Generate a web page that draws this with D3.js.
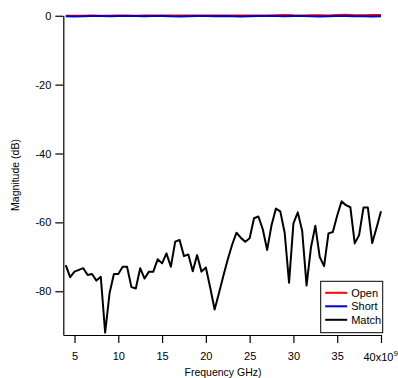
<!DOCTYPE html>
<html>
<head>
<meta charset="utf-8">
<script src="https://cdn.jsdelivr.net/npm/d3@7"></script>
<style>
  body { margin: 0; background: #fff; }
  svg { font-family: "Liberation Sans", Arial, sans-serif; }
</style>
</head>
<body>
<div id="chart"></div>
<script>
// frequency grid for the match trace, GHz
var freqMatch = [4, 4.5, 5, 5.5, 6, 6.5, 7, 7.5, 8, 8.5, 9, 9.5, 10, 10.5, 11, 11.5, 12, 12.5, 13, 13.5,
    14, 14.5, 15, 15.5, 16, 16.5, 17, 17.5, 18, 18.5, 19, 19.5, 20, 20.5, 21, 21.5, 22, 22.5, 23, 23.5,
    24, 24.5, 25, 25.5, 26, 26.5, 27, 27.5, 28, 28.5, 29, 29.5, 30, 30.5, 31, 31.5, 32, 32.5, 33, 33.5,
    34, 34.5, 35, 35.5, 36, 36.5, 37, 37.5, 38, 38.5, 39, 39.5, 40];
var matchDb = [-72.4, -75.9, -74.3, -73.8, -73.3, -75.3, -75.0, -76.9, -75.8, -92.0, -80.6, -75.0, -75.0, -72.9, -72.9, -78.8, -79.2, -73.3, -76.3, -74.3,
    -74.3, -70.7, -71.9, -69.0, -72.9, -65.6, -65.1, -69.8, -69.3, -74.2, -69.5, -74.3, -73.1, -79.0, -85.3, -80.5, -75.5, -70.8, -66.5, -63.0,
    -64.5, -65.6, -64.6, -58.8, -58.3, -62.0, -68.0, -60.8, -56.0, -56.8, -63.0, -77.5, -60.3, -57.1, -62.5, -78.3, -67.3, -61.0, -70.0, -72.7,
    -63.2, -62.8, -58.0, -53.9, -55.0, -55.6, -66.1, -63.7, -55.7, -55.7, -66.0, -61.5, -56.8];

// open / short traces sit at 0 dB
var freqOS = [4, 5, 6, 7, 8, 9, 10, 11, 12, 13, 14, 15, 16, 17, 18, 19, 20, 21, 22, 23, 24, 25,
    26, 27, 28, 29, 30, 31, 32, 33, 34, 35, 36, 37, 38, 39, 40];
var openDb = [0.02, 0.03, 0.02, 0.04, 0.03, 0.02, 0.05, 0.04, 0.03, 0.05, 0.04, 0.06, 0.08, 0.05, 0.04, 0.06, 0.05, 0.04, 0.06, 0.05, 0.07, 0.05,
    0.08, 0.1, 0.15, 0.2, 0.12, 0.1, 0.14, 0.12, 0.1, 0.2, 0.3, 0.15, 0.12, 0.25, 0.2];
var shortDb = [-0.15, -0.2, -0.12, -0.1, -0.1, -0.12, -0.1, -0.08, -0.1, -0.12, -0.1, -0.1, -0.18, -0.2, -0.15, -0.1, -0.1, -0.12, -0.1, -0.15, -0.2, -0.12,
    -0.1, -0.08, -0.1, -0.12, -0.1, -0.08, -0.15, -0.2, -0.12, -0.1, -0.1, -0.12, -0.18, -0.2, -0.15];

var yTicks = [0, -20, -40, -60, -80];
var xTicks = [5, 10, 15, 20, 25, 30, 35, 40];
var legendNames = ["Open", "Short", "Match"];
var legendColors = ["#ff0000", "#0000cc", "#000000"];

var width = 398, height = 378;

var svg = d3.select("#chart").append("svg")
    .attr("width", width)
    .attr("height", height);

var x = d3.scaleLinear().domain([3.72, 40]).range([63.3, 381]);
var y = d3.scaleLinear().domain([-92.7, 0.1]).range([335, 15.4]);

// axes (plain hyphen for negatives, like the original)
var xAxis = d3.axisBottom(x)
    .tickValues(xTicks)
    .tickSizeInner(8)
    .tickSizeOuter(0)
    .tickPadding(9.5)
    .tickFormat(d => d == 40 ? "" : String(d));

var yAxis = d3.axisLeft(y)
    .tickValues(yTicks)
    .tickSizeInner(8)
    .tickSizeOuter(0)
    .tickPadding(4)
    .tickFormat(d => String(d));

var gx = svg.append("g")
    .attr("transform", "translate(0,335)")
    .call(xAxis);
var gy = svg.append("g")
    .attr("transform", "translate(63.3,0)")
    .call(yAxis);

[gx, gy].forEach(g => {
    g.selectAll("path, line").attr("stroke", "#000").attr("stroke-width", 1.2);
    g.selectAll("text").attr("fill", "#000").style("font-size", "11px");
});

// "40x10^9" label at the last tick
var lastLbl = svg.append("text")
    .attr("x", x(40) - 17.5)
    .attr("y", 360.7)
    .style("font-size", "11px")
    .attr("fill", "#000");
lastLbl.append("tspan").text("40x10");
lastLbl.append("tspan").attr("dy", -5).style("font-size", "8px").text("9");

// axis titles
svg.append("text")
    .attr("transform", "translate(19,175) rotate(-90)")
    .attr("text-anchor", "middle")
    .style("font-size", "10.5px")
    .text("Magnitude (dB)");

svg.append("text")
    .attr("x", 223)
    .attr("y", 376)
    .attr("text-anchor", "middle")
    .style("font-size", "10.5px")
    .text("Frequency GHz)");

// traces
var line = d3.line()
    .x(d => x(d[0]))
    .y(d => y(d[1]));

svg.append("path")
    .datum(freqOS.map((f, i) => [f, openDb[i]]))
    .attr("fill", "none")
    .attr("stroke", legendColors[0])
    .attr("stroke-width", 2)
    .attr("d", line);

svg.append("path")
    .datum(freqOS.map((f, i) => [f, shortDb[i]]))
    .attr("fill", "none")
    .attr("stroke", legendColors[1])
    .attr("stroke-width", 2)
    .attr("d", line);

svg.append("path")
    .datum(freqMatch.map((f, i) => [f, matchDb[i]]))
    .attr("fill", "none")
    .attr("stroke", legendColors[2])
    .attr("stroke-width", 2)
    .attr("stroke-linejoin", "round")
    .attr("d", line);

// legend
var legend = svg.append("g").attr("transform", "translate(320.7,281.3)");
legend.append("rect")
    .attr("width", 62)
    .attr("height", 51.4)
    .attr("fill", "#fff")
    .attr("stroke", "#000")
    .attr("stroke-width", 1);

var item = legend.selectAll("g.item")
    .data(legendNames)
    .join("g")
    .attr("class", "item")
    .attr("transform", (d, i) => `translate(0,${11.5 + i * 13.5})`);

item.append("line")
    .attr("x1", 4.5).attr("x2", 26.5)
    .attr("stroke", (d, i) => legendColors[i])
    .attr("stroke-width", 2);

item.append("text")
    .attr("x", 30.5)
    .attr("dy", "0.35em")
    .style("font-size", "11px")
    .text(d => d);
</script>
</body>
</html>
